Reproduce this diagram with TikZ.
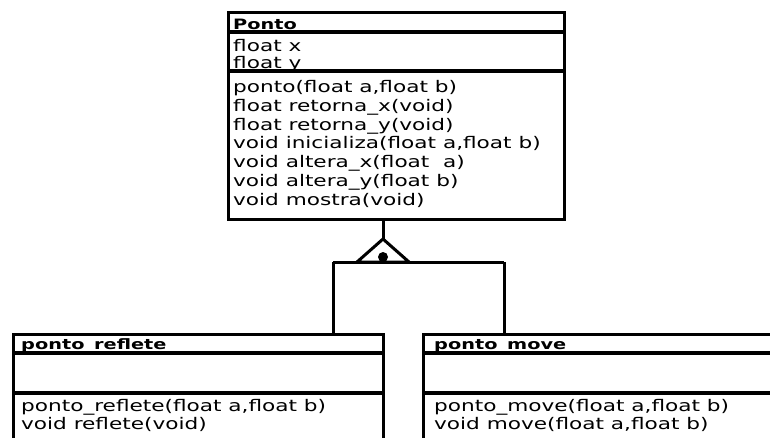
\documentclass[tikz,border=0pt]{standalone}
\usepackage{fontspec}
\setmainfont[FakeStretch=1.35]{DejaVu Sans}
\usetikzlibrary{positioning}

\begin{document}
\begin{tikzpicture}[
    x=1pt, y=-1pt,
    classbox/.style={rectangle, draw, line width=3pt, anchor=north west, inner sep=0pt},
    sep/.style={line width=3.4pt},
    link/.style={line width=3pt},
    title/.style={anchor=base west, inner sep=0pt, font=\fontsize{14.3}{16}\selectfont\bfseries},
    members/.style={anchor=base west, inner sep=0pt, align=left}
]
\useasboundingbox (0,0) rectangle (770,437);
\clip (0,0) rectangle (770,437);

% classes
\node [classbox, minimum width=336pt, minimum height=207pt] (ponto) at (227,11) {};
\node [classbox, minimum width=370pt, minimum height=140pt] (reflete) at (12,333) {};
\node [classbox, minimum width=400pt, minimum height=140pt] (move) at (422,333) {};

% compartments
\draw [sep] ([yshift=-21pt]ponto.north west) -- ([yshift=-21pt]ponto.north east);
\draw [sep] ([yshift=-60pt]ponto.north west) -- ([yshift=-60pt]ponto.north east);
\draw [sep] ([yshift=-20pt]reflete.north west) -- ([yshift=-20pt]reflete.north east);
\draw [sep] ([yshift=-60pt]reflete.north west) -- ([yshift=-60pt]reflete.north east);
\draw [sep] ([yshift=-20pt]move.north west) -- ([yshift=-20pt]move.north east);
\draw [sep] ([yshift=-60pt]move.north west) -- ([yshift=-60pt]move.north east);

% texts (anchored on the last line)
\node [title] (ponto-name) at (233,29) {\underline{Ponto}};
\node [members, font=\fontsize{16}{17}\selectfont] (ponto-attr) at (233,68) {float x\\ float y};
\node [members, font=\fontsize{16}{18.7}\selectfont] (ponto-meth) at (233,205) {ponto(float a,float b)\\ float retorna\_x(void)\\ float retorna\_y(void)\\ void inicializa(float a,float b)\\ void altera\_x(float~ a)\\ void altera\_y(float b)\\ void mostra(void)};

\node [title] (reflete-name) at (21,349) {\underline{ponto\_reflete}};
\node [members, font=\fontsize{16}{18}\selectfont] (reflete-meth) at (21,429) {ponto\_reflete(float a,float b)\\ void reflete(void)};

\node [title] (move-name) at (434,349) {\underline{ponto\_move}};
\node [members, font=\fontsize{16}{18}\selectfont] (move-meth) at (434,429) {ponto\_move(float a,float b)\\ void move(float a,float b)};

% inheritance
\coordinate (apex) at (383,239);
\coordinate (base-left) at (357,262);
\coordinate (base-right) at (409,262);
\coordinate (left-end) at (333,262);
\coordinate (right-end) at (504,262);

\draw [link] (apex |- ponto.south) -- (apex);
\draw [link] (apex) -- (base-left) -- (base-right) -- cycle;
\draw [link] (left-end) -- (right-end);
\fill (383,257) circle (5pt);
\draw [link] (left-end) -- (left-end |- reflete.north);
\draw [link] (right-end) -- (right-end |- move.north);

\end{tikzpicture}
\end{document}
